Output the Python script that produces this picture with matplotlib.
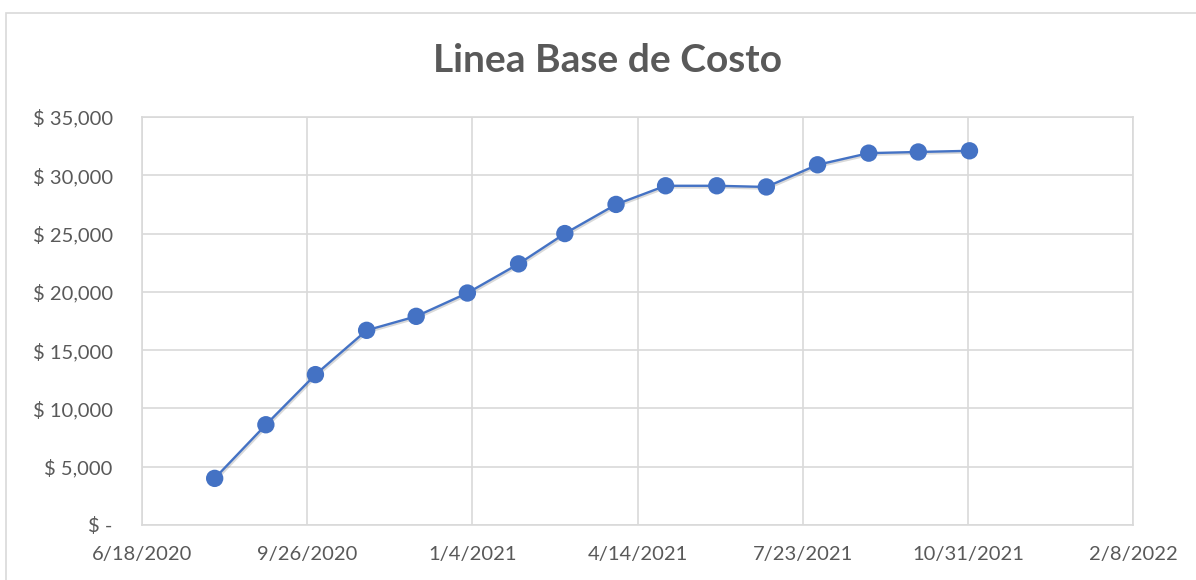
import datetime as dt
import matplotlib
matplotlib.use('Agg')
import matplotlib.pyplot as plt
import matplotlib.dates as mdates
import matplotlib.patheffects as pe
from matplotlib.patches import Rectangle
from matplotlib.ticker import FuncFormatter, MultipleLocator

plt.rcParams['font.family'] = ['Lato', 'DejaVu Sans']

# monthly cost baseline
fechas = ['2020-08-01', '2020-09-01', '2020-10-01', '2020-11-01', '2020-12-01',
          '2021-01-01', '2021-02-01', '2021-03-01', '2021-04-01', '2021-05-01',
          '2021-06-01', '2021-07-01', '2021-08-01', '2021-09-01', '2021-10-01',
          '2021-11-01']
costo = [4000, 8600, 12900, 16700, 17900, 19900, 22400, 25000, 27500, 29100,
         29100, 29000, 30900, 31900, 32000, 32100]

x_start = dt.date(2020, 6, 18)
x_ticks = [x_start + dt.timedelta(days=100 * i) for i in range(7)]

gris = '#595959'
azul = '#4472C4'

fig = plt.figure(figsize=(11.96, 5.8), dpi=100)
fig.patches.append(Rectangle((6 / 1196, -0.1), 1.2, 1 - 13 / 580 + 0.1,
                             transform=fig.transFigure, fill=False,
                             edgecolor='#D9D9D9', linewidth=1.2))
ax = fig.add_axes([142 / 1196, 1 - 525 / 580, (1133 - 142) / 1196, (525 - 117) / 580])

x = [dt.datetime.strptime(f, '%Y-%m-%d').date() for f in fechas]
ax.plot(x, costo, color=azul, linewidth=1.7, marker='o', markersize=12.5,
        markeredgewidth=0, zorder=3,
        path_effects=[pe.SimpleLineShadow(offset=(0.8, -1.2), alpha=0.15), pe.Normal()])

ax.set_xlim(x_ticks[0], x_ticks[-1])
ax.set_xticks(x_ticks)
ax.xaxis.set_major_formatter(FuncFormatter(
    lambda v, p: '{d.month}/{d.day}/{d.year}'.format(d=mdates.num2date(v))))
ax.set_ylim(0, 35000)
ax.yaxis.set_major_locator(MultipleLocator(5000))
ax.yaxis.set_major_formatter(FuncFormatter(
    lambda v, p: '$ -' if v == 0 else '$ {:,.0f}'.format(v)))

ax.grid(True, color='#D9D9D9', linewidth=1.2)
ax.set_axisbelow(True)
for s in ax.spines.values():
    s.set_color('#D9D9D9')
    s.set_linewidth(1.2)
ax.tick_params(length=0, labelsize=14.5, labelcolor=gris)
ax.tick_params(axis='y', pad=21)
ax.tick_params(axis='x', pad=15)

fig.text(607 / 1196, 1 - 60 / 580, 'Linea Base de Costo', ha='center', va='center',
         fontsize=28, fontweight='bold', color=gris)

fig.savefig('out.png', dpi=100)
